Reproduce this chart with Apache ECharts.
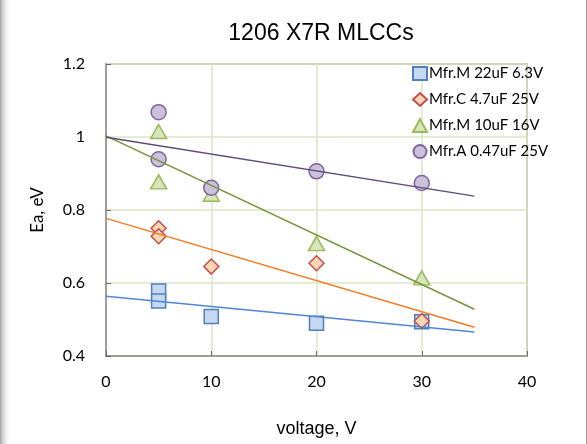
<!DOCTYPE html>
<html>
<head>
<meta charset="utf-8">
<script src="https://cdn.jsdelivr.net/npm/echarts@6/dist/echarts.min.js"></script>
<style>
  html, body { margin: 0; padding: 0; background: #fff; }
  #frame {
    position: relative; width: 587px; height: 444px; overflow: hidden;
    background: linear-gradient(to right, #a4a4a4 0px, #d4d4d4 3px, #f4f4f4 7px, #ffffff 10px);
  }
  #frame::after {
    content: ""; position: absolute; right: 0; top: 0; width: 1px; height: 100%; background: #9a9a9a;
  }
  #chart { position: absolute; left: 0; top: 0; width: 587px; height: 444px; }
</style>
</head>
<body>
<div id="frame"><div id="chart"></div></div>
<script>
// Activation energy vs. bias voltage for four 1206 X7R capacitor lots
const seriesNames = ['Mfr.M 22uF 6.3V', 'Mfr.C 4.7uF 25V', 'Mfr.M 10uF 16V', 'Mfr.A 0.47uF 25V'];

// measured points: voltage (V) and activation energy (eV)
const mfrM22Volt = [5, 5, 10, 20, 30];
const mfrM22Ea   = [0.578, 0.551, 0.508, 0.490, 0.494];

const mfrC47Volt = [5, 5, 10, 20, 30];
const mfrC47Ea   = [0.750, 0.728, 0.645, 0.654, 0.496];

const mfrM10Volt = [5, 5, 10, 20, 30];
const mfrM10Ea   = [1.015, 0.877, 0.843, 0.708, 0.614];

const mfrA047Volt = [5, 5, 10, 20, 30];
const mfrA047Ea   = [1.068, 0.939, 0.861, 0.906, 0.874];

// linear trend lines, evaluated at the two ends of the fit range
const trendVolt = [0, 35];
const trendM22  = [0.564, 0.466];
const trendC47  = [0.777, 0.479];
const trendM10  = [1.003, 0.528];
const trendA047 = [0.999, 0.838];

// axis ranges
const xTicks = [0, 10, 20, 30, 40];
const yTicks = [0.4, 0.6, 0.8, 1.0, 1.2];

const pairs = (xs, ys) => xs.map((x, i) => [x, ys[i]]);

const markerStyles = [
  { symbol: 'rect',     size: 14,       fill: '#c6d9f1', stroke: '#4f81bd' },
  { symbol: 'diamond',  size: 15,       fill: '#fcd5b5', stroke: '#c0504d' },
  { symbol: 'triangle', size: [16, 14], fill: '#d7e4bd', stroke: '#9bbb59' },
  { symbol: 'circle',   size: 15,       fill: '#ccc1da', stroke: '#8064a2' }
];
const lineColors = ['#4f86d6', '#f47b20', '#77933c', '#604a7b'];

const pointSets = [
  pairs(mfrM22Volt, mfrM22Ea),
  pairs(mfrC47Volt, mfrC47Ea),
  pairs(mfrM10Volt, mfrM10Ea),
  pairs(mfrA047Volt, mfrA047Ea)
];
const trendSets = [trendM22, trendC47, trendM10, trendA047].map(t => pairs(trendVolt, t));

const scatterSeries = pointSets.map((data, i) => ({
  name: seriesNames[i],
  type: 'scatter',
  data: data,
  symbol: markerStyles[i].symbol,
  symbolSize: markerStyles[i].size,
  itemStyle: { color: markerStyles[i].fill, borderColor: markerStyles[i].stroke, borderWidth: 1.5, opacity: 1 },
  z: 2,
  silent: true
}));

const trendSeries = trendSets.map((data, i) => ({
  name: seriesNames[i] + ' trend',
  type: 'line',
  data: data,
  showSymbol: false,
  symbol: 'none',
  lineStyle: { color: lineColors[i], width: 1.5 },
  z: 3,
  silent: true
}));

const labelFont = 'Lato, "Open Sans", sans-serif';

const chart = echarts.init(document.getElementById('chart'), null, { renderer: 'canvas' });
chart.setOption({
  animation: false,
  title: {
    text: '1206 X7R MLCCs',
    left: 316, top: 17, textAlign: 'center',
    textStyle: { fontFamily: '"Liberation Sans", Arial, sans-serif', fontSize: 23, fontWeight: 'normal', color: '#000' }
  },
  legend: {
    data: seriesNames,
    orient: 'vertical',
    left: 407, top: 61,
    itemWidth: 14, itemHeight: 13, itemGap: 11,
    textStyle: { fontFamily: labelFont, fontSize: 15, color: '#000', padding: [0, 0, 0, -3] },
    selectedMode: false
  },
  grid: {
    left: 106, right: 60, top: 64, bottom: 88,
    show: true, borderColor: '#8c8c8c', borderWidth: 1.5, backgroundColor: 'transparent',
    containLabel: false
  },
  xAxis: {
    type: 'value',
    min: xTicks[0], max: xTicks[xTicks.length - 1], interval: 10,
    name: 'voltage, V', nameLocation: 'middle', nameGap: 64,
    nameTextStyle: { fontFamily: '"Liberation Sans", Arial, sans-serif', fontSize: 18, color: '#000' },
    axisLine: { show: true, lineStyle: { color: '#8c8c8c', width: 1.5 } },
    axisTick: { show: true, inside: true, length: 5, lineStyle: { color: '#666' } },
    axisLabel: { fontFamily: labelFont, fontSize: 16, color: '#000', margin: 18 },
    splitLine: { show: true, lineStyle: { color: '#dbe7c4', width: 1.5 } }
  },
  yAxis: {
    type: 'value',
    min: yTicks[0], max: yTicks[yTicks.length - 1], interval: 0.2,
    name: 'Ea, eV', nameLocation: 'middle', nameGap: 60,
    nameTextStyle: { fontFamily: labelFont, fontSize: 17, color: '#000' },
    axisLine: { show: true, lineStyle: { color: '#8c8c8c', width: 1.5 } },
    axisTick: { show: true, inside: true, length: 5, lineStyle: { color: '#666' } },
    axisLabel: { fontFamily: labelFont, fontSize: 16, color: '#000', margin: 21 },
    splitLine: { show: true, lineStyle: { color: '#dbe7c4', width: 1.5 } }
  },
  series: scatterSeries.concat(trendSeries)
});
</script>
</body>
</html>
